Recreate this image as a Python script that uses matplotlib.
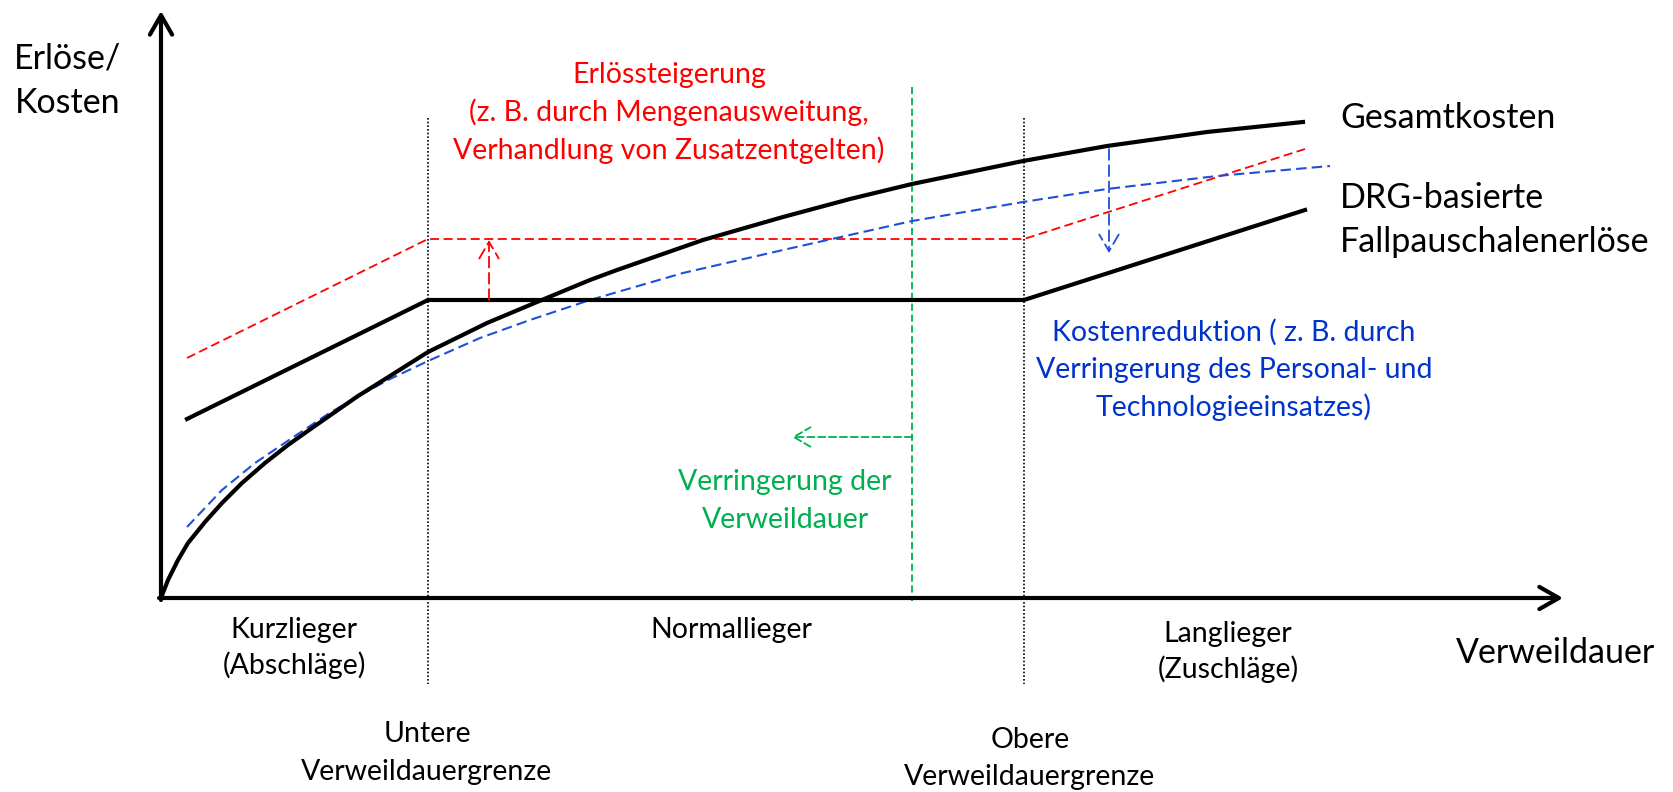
import matplotlib.pyplot as plt

plt.rcParams['font.family'] = ['Lato', 'DejaVu Sans']

# Werte in Bildpunkten des Originals (x nach rechts, y nach unten)
gesamt_x = [161, 168, 178, 188, 205, 222, 242, 265, 288, 312, 335, 358, 382,
            428, 487, 537, 590, 617, 703, 783, 850, 912, 1023, 1107, 1207, 1303]
gesamt_y = [598, 580, 560, 543, 522, 503, 483, 463, 445, 428, 412, 396, 381,
            352, 323, 302, 280, 270, 240, 217, 199, 184, 161, 146, 132, 122]

kostenred_x = [187, 222, 255, 295, 328, 355, 388, 428, 480, 530, 590, 683,
               783, 823, 912, 1023, 1107, 1217, 1330]
kostenred_y = [527, 490, 463, 436, 414, 398, 380, 361, 338, 320, 300, 273,
               250, 241, 221, 202, 189, 176, 166]

drg_x = [187, 428, 1024, 1305]
drg_y = [419, 300, 300, 210]

erloes_hoch_x = [187, 428, 1024, 1305]
erloes_hoch_y = [358, 239, 239, 149]

grenzen_x = [428, 1024]
grenzen_y = [118, 684]

verweil_neu_x = 912
verweil_neu_y = [87, 601]

RED = '#ff0000'
BLUE_LINE = '#1f4fd8'
BLUE_TXT = '#0033cc'
GREEN = '#00b050'

fig = plt.figure(figsize=(16.73, 7.92), dpi=100)
ax = fig.add_axes((0, 0, 1, 1))
ax.set_xlim(0, 1673)
ax.set_ylim(792, 0)
ax.axis('off')


def arrow(x0, y0, x1, y1, color, lw, ls='-', hl=1.3, hw=0.8):
    ax.annotate('', xy=(x1, y1), xytext=(x0, y0),
                arrowprops=dict(arrowstyle='->,head_length=%s,head_width=%s' % (hl, hw),
                                color=color, lw=lw, linestyle=ls,
                                shrinkA=0, shrinkB=0, mutation_scale=10))


# Achsen
arrow(161, 600, 161, 11, 'black', 3.0, hl=1.4, hw=0.8)
arrow(159, 598, 1563, 598, 'black', 3.0, hl=1.4, hw=0.8)

# Grenzen
for gx in grenzen_x:
    ax.plot([gx, gx], grenzen_y, color='black', lw=1.2, ls=(0, (1, 1.2)))

# verkuerzte Verweildauer
ax.plot([verweil_neu_x, verweil_neu_x], verweil_neu_y, color=GREEN, lw=1.3,
        ls=(0, (4, 2)))
arrow(912, 437, 792, 437, GREEN, 1.3, ls=(0, (4, 2)), hl=1.2, hw=0.7)

# Kurven
ax.plot(erloes_hoch_x, erloes_hoch_y, color=RED, lw=1.3, ls=(0, (5, 2.5)))
ax.plot(kostenred_x, kostenred_y, color=BLUE_LINE, lw=1.5, ls=(0, (5, 2.5)))
ax.plot(drg_x, drg_y, color='black', lw=3.0, solid_joinstyle='miter')
ax.plot(gesamt_x, gesamt_y, color='black', lw=3.0, solid_joinstyle='round')

arrow(489, 300, 489, 240, RED, 1.3, ls=(0, (6, 3)), hl=1.2, hw=0.7)
arrow(1109, 149, 1109, 253, BLUE_LINE, 1.3, ls=(0, (6, 3)), hl=1.2, hw=0.7)

BIG = 24.5
SMALL = 20.5


def txt(x, y, s, size=SMALL, color='black', ha='center'):
    ax.text(x, y, s, fontsize=size, color=color, ha=ha, va='baseline')


txt(14, 69, 'Erlöse/', BIG, ha='left')
txt(15, 113, 'Kosten', BIG, ha='left')
txt(1340, 128, 'Gesamtkosten', BIG, ha='left')
txt(1340, 208, 'DRG-basierte', BIG, ha='left')
txt(1340, 252, 'Fallpauschalenerlöse', BIG, ha='left')
txt(1456, 663, 'Verweildauer', BIG, ha='left')

txt(669, 83, 'Erlössteigerung', color=RED)
txt(669, 121, '(z. B. durch Mengenausweitung,', color=RED)
txt(669, 159, 'Verhandlung von Zusatzentgelten)', color=RED)

txt(1234, 341, 'Kostenreduktion ( z. B. durch', color=BLUE_TXT)
txt(1234, 378, 'Verringerung des Personal- und', color=BLUE_TXT)
txt(1234, 416, 'Technologieeinsatzes)', color=BLUE_TXT)

txt(785, 490, 'Verringerung der', color=GREEN)
txt(785, 528, 'Verweildauer', color=GREEN)

txt(294, 638, 'Kurzlieger')
txt(294, 674, '(Abschläge)')
txt(731, 638, 'Normallieger')
txt(1228, 642, 'Langlieger')
txt(1228, 678, '(Zuschläge)')
txt(427, 742, 'Untere')
txt(427, 780, 'Verweildauergrenze')
txt(1030, 748, 'Obere')
txt(1030, 785, 'Verweildauergrenze')

fig.savefig('out.png', dpi=100)
